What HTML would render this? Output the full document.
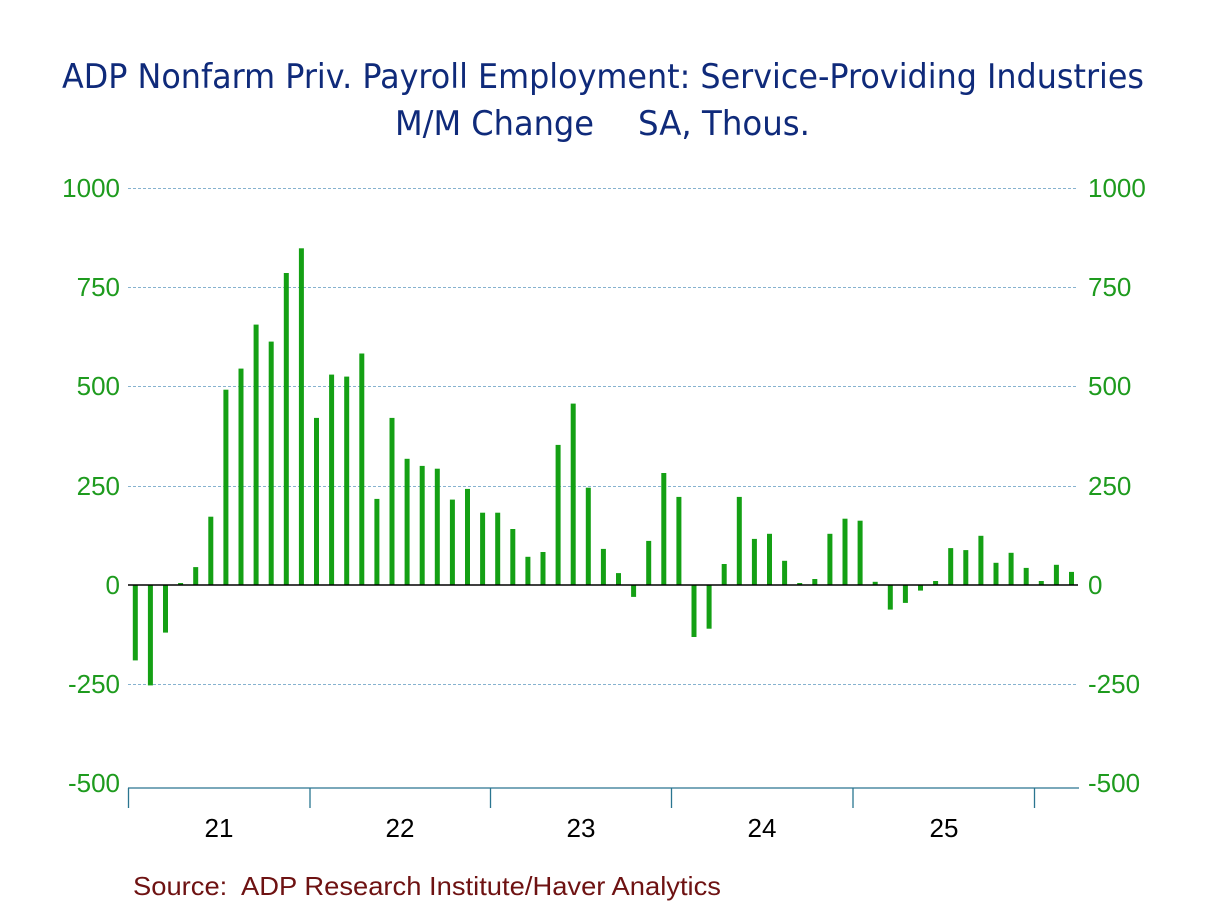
<!DOCTYPE html>
<html>
<head>
<meta charset="utf-8">
<style>
html,body{margin:0;padding:0;background:#fff;}
svg{display:block;}
</style>
</head>
<body>
<svg width="1208" height="906" viewBox="0 0 1208 906" xmlns="http://www.w3.org/2000/svg">
<rect width="1208" height="906" fill="#ffffff"/>
<g font-family="'DejaVu Sans','Liberation Sans',sans-serif" font-size="34" fill="#0f2a7a">
<text x="62" y="88" textLength="1082" lengthAdjust="spacingAndGlyphs">ADP Nonfarm Priv. Payroll Employment: Service-Providing Industries</text>
<text x="395" y="135" textLength="199" lengthAdjust="spacingAndGlyphs">M/M Change</text>
<text x="638" y="135" textLength="172" lengthAdjust="spacingAndGlyphs">SA, Thous.</text>
</g>
<g stroke="#86b2cf" stroke-width="1" stroke-dasharray="3,2">
<line x1="128" y1="188.5" x2="1078" y2="188.5"/>
<line x1="128" y1="287.5" x2="1078" y2="287.5"/>
<line x1="128" y1="386.5" x2="1078" y2="386.5"/>
<line x1="128" y1="486.5" x2="1078" y2="486.5"/>
<line x1="128" y1="684.5" x2="1078" y2="684.5"/>
</g>
<g fill="#14a014">
<rect x="132.8" y="585" width="5" height="75.4"/>
<rect x="147.9" y="585" width="5" height="100.4"/>
<rect x="163.0" y="585" width="5" height="47.6"/>
<rect x="178.1" y="583" width="5" height="2"/>
<rect x="193.2" y="567.1" width="5" height="17.9"/>
<rect x="208.3" y="516.7" width="5" height="68.3"/>
<rect x="223.4" y="389.7" width="5" height="195.3"/>
<rect x="238.5" y="368.6" width="5" height="216.4"/>
<rect x="253.6" y="324.6" width="5" height="260.4"/>
<rect x="268.7" y="341.6" width="5" height="243.4"/>
<rect x="283.8" y="273.0" width="5" height="312.0"/>
<rect x="298.9" y="248.3" width="5" height="336.7"/>
<rect x="314.0" y="417.9" width="5" height="167.1"/>
<rect x="329.1" y="374.6" width="5" height="210.4"/>
<rect x="344.2" y="376.6" width="5" height="208.4"/>
<rect x="359.3" y="353.5" width="5" height="231.5"/>
<rect x="374.4" y="498.9" width="5" height="86.1"/>
<rect x="389.5" y="417.9" width="5" height="167.1"/>
<rect x="404.6" y="458.8" width="5" height="126.2"/>
<rect x="419.7" y="465.9" width="5" height="119.1"/>
<rect x="434.8" y="468.7" width="5" height="116.3"/>
<rect x="449.9" y="499.6" width="5" height="85.4"/>
<rect x="465.0" y="488.9" width="5" height="96.1"/>
<rect x="480.1" y="512.7" width="5" height="72.3"/>
<rect x="495.2" y="512.7" width="5" height="72.3"/>
<rect x="510.3" y="529.0" width="5" height="56.0"/>
<rect x="525.4" y="556.8" width="5" height="28.2"/>
<rect x="540.5" y="552.0" width="5" height="33.0"/>
<rect x="555.6" y="444.9" width="5" height="140.1"/>
<rect x="570.7" y="403.6" width="5" height="181.4"/>
<rect x="585.8" y="487.7" width="5" height="97.3"/>
<rect x="600.9" y="548.9" width="5" height="36.1"/>
<rect x="616.0" y="573.1" width="5" height="11.9"/>
<rect x="631.1" y="585" width="5" height="11.9"/>
<rect x="646.2" y="540.9" width="5" height="44.1"/>
<rect x="661.3" y="473.0" width="5" height="112.0"/>
<rect x="676.4" y="496.9" width="5" height="88.1"/>
<rect x="691.5" y="585" width="5" height="52.0"/>
<rect x="706.6" y="585" width="5" height="43.7"/>
<rect x="721.7" y="564.0" width="5" height="21.0"/>
<rect x="736.8" y="496.9" width="5" height="88.1"/>
<rect x="751.9" y="538.9" width="5" height="46.1"/>
<rect x="767.0" y="533.8" width="5" height="51.2"/>
<rect x="782.1" y="560.8" width="5" height="24.2"/>
<rect x="797.2" y="583" width="5" height="2"/>
<rect x="812.3" y="579.0" width="5" height="6.0"/>
<rect x="827.4" y="533.8" width="5" height="51.2"/>
<rect x="842.5" y="518.7" width="5" height="66.3"/>
<rect x="857.6" y="520.7" width="5" height="64.3"/>
<rect x="872.7" y="581.8" width="5" height="3.2"/>
<rect x="887.8" y="585" width="5" height="24.6"/>
<rect x="902.9" y="585" width="5" height="17.9"/>
<rect x="918.0" y="585" width="5" height="5.6"/>
<rect x="933.1" y="581" width="5" height="4"/>
<rect x="948.2" y="548.1" width="5" height="36.9"/>
<rect x="963.3" y="550.1" width="5" height="34.9"/>
<rect x="978.4" y="535.8" width="5" height="49.2"/>
<rect x="993.5" y="562.8" width="5" height="22.2"/>
<rect x="1008.6" y="552.8" width="5" height="32.2"/>
<rect x="1023.7" y="567.9" width="5" height="17.1"/>
<rect x="1038.8" y="581" width="5" height="4"/>
<rect x="1053.9" y="564.8" width="5" height="20.2"/>
<rect x="1069.0" y="571.9" width="5" height="13.1"/>
</g>
<line x1="128" y1="585" x2="1078" y2="585" stroke="#000" stroke-width="1.6"/>
<g stroke="#2a7590" stroke-width="1.3" fill="none">
<line x1="128" y1="788" x2="1079" y2="788"/>
<line x1="128.5" y1="788" x2="128.5" y2="808"/>
<line x1="310" y1="788" x2="310" y2="808"/>
<line x1="490.5" y1="788" x2="490.5" y2="808"/>
<line x1="671.5" y1="788" x2="671.5" y2="808"/>
<line x1="853" y1="788" x2="853" y2="808"/>
<line x1="1034.5" y1="788" x2="1034.5" y2="808"/>
</g>
<g font-family="'Liberation Sans',Arial,sans-serif" font-size="26" fill="#1e9b1e" text-anchor="end">
<text x="120" y="197">1000</text>
<text x="120" y="296">750</text>
<text x="120" y="395">500</text>
<text x="120" y="495">250</text>
<text x="120" y="594">0</text>
<text x="120" y="693">-250</text>
<text x="120" y="792">-500</text>
</g>
<g font-family="'Liberation Sans',Arial,sans-serif" font-size="26" fill="#1e9b1e" text-anchor="start">
<text x="1088" y="197">1000</text>
<text x="1088" y="296">750</text>
<text x="1088" y="395">500</text>
<text x="1088" y="495">250</text>
<text x="1088" y="594">0</text>
<text x="1088" y="693">-250</text>
<text x="1088" y="792">-500</text>
</g>
<g font-family="'Liberation Sans',Arial,sans-serif" font-size="26" fill="#000" text-anchor="middle">
<text x="219" y="837">21</text>
<text x="400" y="837">22</text>
<text x="581" y="837">23</text>
<text x="762" y="837">24</text>
<text x="944" y="837">25</text>
</g>
<text x="133" y="895" font-family="'Liberation Sans',Arial,sans-serif" font-size="26" fill="#6e1212" textLength="588" lengthAdjust="spacingAndGlyphs" xml:space="preserve">Source:  ADP Research Institute/Haver Analytics</text>
</svg>
</body>
</html>
